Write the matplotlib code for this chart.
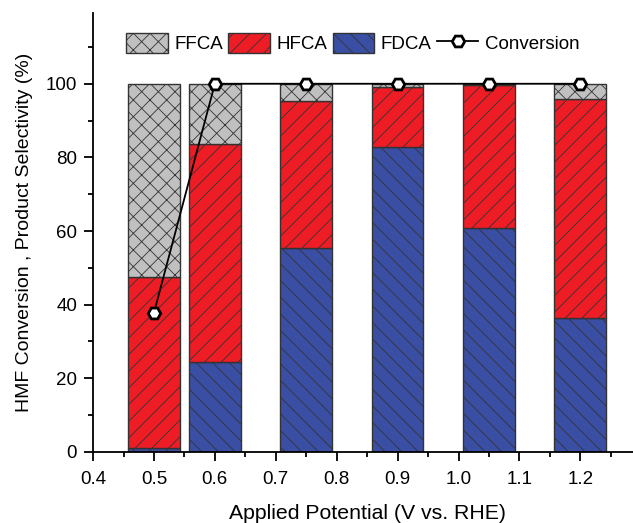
import numpy as np
import matplotlib
matplotlib.use("Agg")
import matplotlib.pyplot as plt
from matplotlib.patches import Patch
from matplotlib.lines import Line2D

# --- data ---
potential = [0.5, 0.6, 0.75, 0.9, 1.05, 1.2]      # V vs. RHE
fdca = [1.0, 24.5, 55.3, 82.8, 60.8, 36.4]        # FDCA selectivity (%)
hfca = [46.5, 59.1, 40.1, 16.2, 38.8, 59.4]       # HFCA selectivity (%)
ffca = [100 - a - b for a, b in zip(fdca, hfca)]  # remainder is FFCA
conversion = [37.8, 100, 100, 100, 100, 100]      # HMF conversion (%)

plt.rcParams['font.family'] = ['Liberation Sans', 'DejaVu Sans']
plt.rcParams['font.size'] = 13.5
plt.rcParams['hatch.linewidth'] = 0.6

fig = plt.figure(figsize=(6.33, 5.23), dpi=100)
ax = fig.add_axes([0.147, 0.136, 0.866, 0.839])

x = np.array(potential)
w = 0.085
edge = '#333333'
c_ffca, c_hfca, c_fdca = '#c0c0c0', '#ee1c25', '#3a4fa3'

ax.bar(x, fdca, w, color=c_fdca, edgecolor=edge, hatch='\\\\', linewidth=1.0)
ax.bar(x, hfca, w, bottom=fdca, color=c_hfca, edgecolor=edge, hatch='//', linewidth=1.0)
ax.bar(x, ffca, w, bottom=np.add(fdca, hfca), color=c_ffca, edgecolor=edge,
       hatch='xx', linewidth=1.0)

ax.plot(x, conversion, color='black', lw=1.3, marker='H', ms=9,
        mfc='white', mec='black', mew=2.0, zorder=5)

ax.set_xlim(0.4, 1.3)
ax.set_ylim(0, 119.2)
ax.set_xticks(np.arange(0.4, 1.21, 0.1))
ax.set_xticks(np.arange(0.45, 1.3, 0.1), minor=True)
ax.set_yticks(np.arange(0, 101, 20))
ax.set_yticks(np.arange(10, 115, 20), minor=True)
ax.set_xticklabels([f"{v:.1f}" for v in np.arange(0.4, 1.21, 0.1)])

for s in ['top', 'right']:
    ax.spines[s].set_visible(False)
for s in ['left', 'bottom']:
    ax.spines[s].set_linewidth(1.3)
ax.tick_params(which='major', direction='out', length=6.5, width=1.3, labelsize=13.5)
ax.tick_params(axis='x', which='major', pad=7)
ax.tick_params(axis='y', which='major', pad=5)
ax.tick_params(which='minor', direction='out', length=3.6, width=1.3)

ax.set_xlabel('Applied Potential (V vs. RHE)', fontsize=15.3, labelpad=12)
ax.set_ylabel('HMF Conversion , Product Selectivity (%)', fontsize=14, labelpad=9)

handles = [
    Patch(facecolor=c_ffca, edgecolor=edge, hatch='xx'),
    Patch(facecolor=c_hfca, edgecolor=edge, hatch='//'),
    Patch(facecolor=c_fdca, edgecolor=edge, hatch='\\\\'),
    Line2D([], [], color='black', lw=1.3, marker='H', ms=9, mfc='white',
           mec='black', mew=2.0),
]
ax.legend(handles, ['FFCA', 'HFCA', 'FDCA', 'Conversion'], ncol=4,
          loc='upper center', bbox_to_anchor=(0.474, 0.992), frameon=False,
          handlelength=2.2, handleheight=1.2, columnspacing=0.3,
          handletextpad=0.35, fontsize=13.5)

fig.savefig('out.png', dpi=100)
